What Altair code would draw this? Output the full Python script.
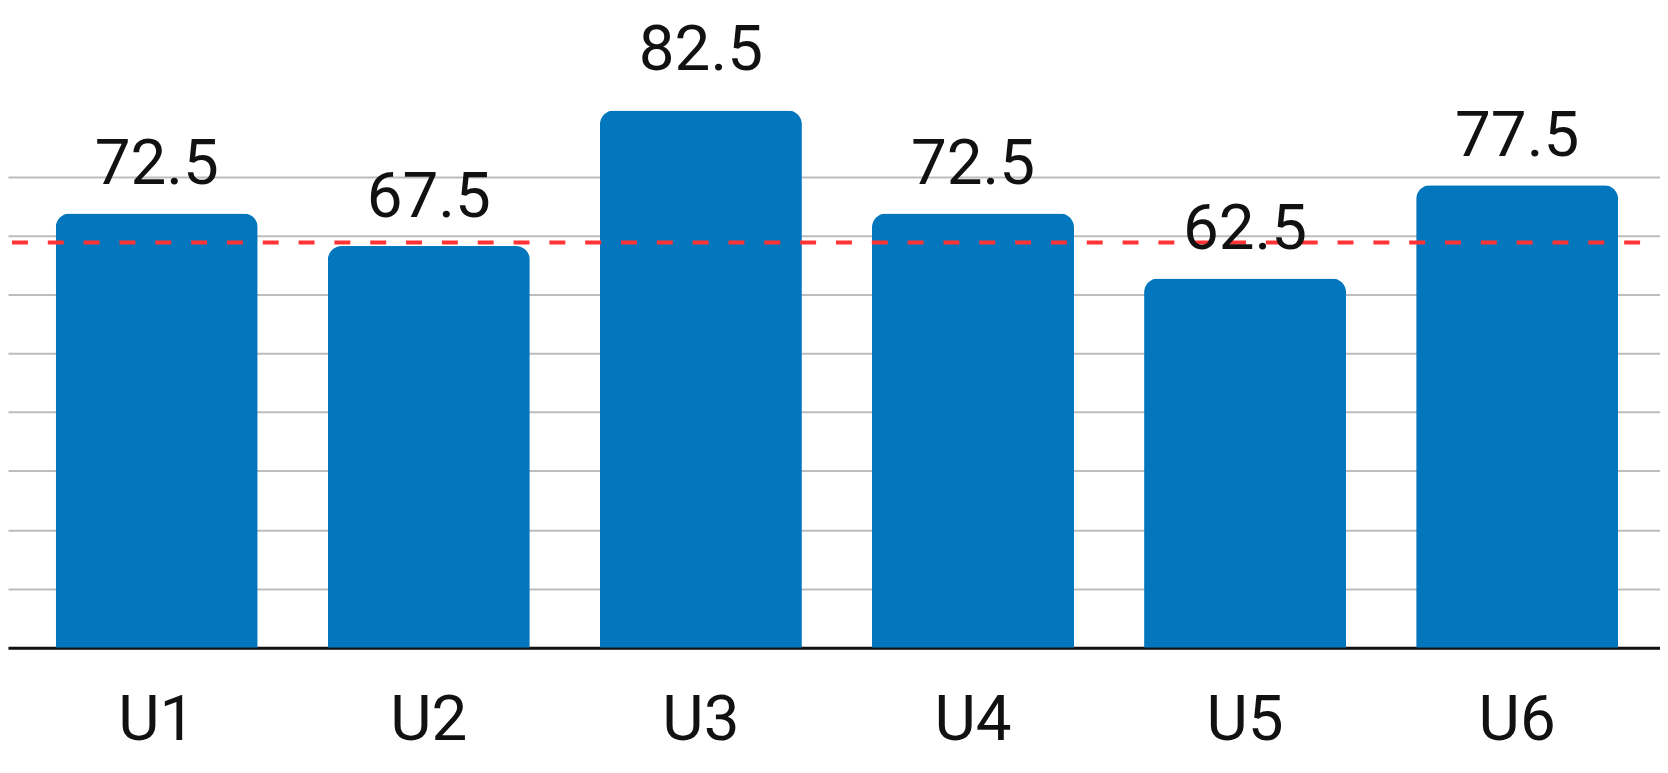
import altair as alt
import pandas as pd

categories = ["U1", "U2", "U3", "U4", "U5", "U6"]
bar_values = [73.7, 68.2, 91.2, 73.7, 62.7, 78.5]
label_texts = ["72.5", "67.5", "82.5", "72.5", "62.5", "77.5"]
reference_value = 68.8
grid_values = [0, 10, 20, 30, 40, 50, 60, 70, 80]
y_max = 108.3
label_cap = 98

df = pd.DataFrame({"cat": categories, "value": bar_values, "label": label_texts})
ref_df = pd.DataFrame({"ref": [reference_value]})

FONT = "Roboto"

x_enc = alt.X(
    "cat:N",
    sort=categories,
    scale=alt.Scale(paddingInner=0.2575, paddingOuter=0.1646, align=0.533),
    axis=alt.Axis(
        title=None,
        labelAngle=0,
        labelFontSize=64,
        labelFont=FONT,
        labelColor="#111111",
        labelPadding=41,
        ticks=False,
        domain=True,
        domainColor="#111111",
        domainWidth=3,
        grid=False,
    ),
)

y_scale = alt.Scale(domain=[0, y_max], nice=False, zero=True)

bars = alt.Chart(df).mark_bar(
    color="#0277bd",
    cornerRadiusTopLeft=14,
    cornerRadiusTopRight=14,
).encode(
    x=x_enc,
    y=alt.Y(
        "value:Q",
        scale=y_scale,
        axis=alt.Axis(
            title=None,
            values=grid_values,
            labels=False,
            ticks=False,
            domain=False,
            grid=True,
            gridColor="#bdbdbd",
            gridWidth=2,
        ),
    ),
)

ref_rule = alt.Chart(ref_df).mark_rule(
    color="#ff3333",
    strokeWidth=4,
    strokeDash=[16, 20],
    strokeDashOffset=16,
).encode(y=alt.Y("ref:Q", scale=y_scale))

texts = alt.Chart(df).transform_calculate(
    label_y=f"datum.value > 85 ? {label_cap} : datum.value + 5"
).mark_text(
    font=FONT,
    fontSize=64,
    color="#111111",
    baseline="alphabetic",
    align="center",
).encode(
    x=alt.X("cat:N", sort=categories),
    y=alt.Y("label_y:Q", scale=y_scale),
    text="label:N",
)

chart = (
    alt.layer(bars, ref_rule, texts)
    .properties(
        width=1660,
        height=641,
        background="white",
        autosize=alt.AutoSizeParams(type="none"),
        padding={"left": 0, "top": 0, "right": 0, "bottom": 110},
    )
    .configure_view(stroke=None, strokeWidth=0)
)

chart.save("out.html", embed_options={"renderer": "svg", "actions": False})
